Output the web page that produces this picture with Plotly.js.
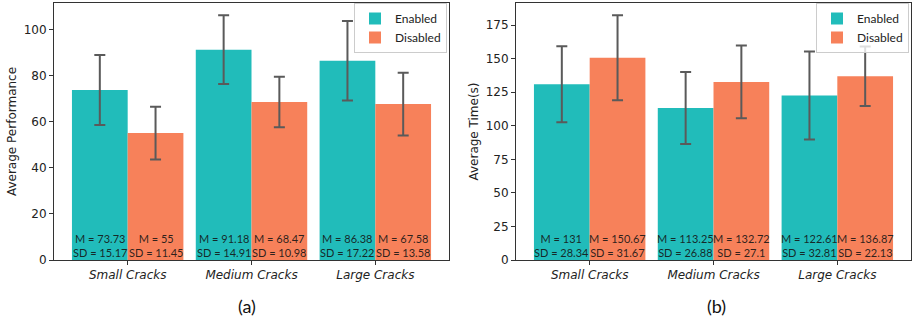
<!DOCTYPE html>
<html>
<head>
<meta charset="utf-8">
<script src="https://cdn.plot.ly/plotly-3.0.1.min.js"></script>
<style>html,body{margin:0;padding:0;background:#fff;}#chart{width:913px;height:324px;}</style>
</head>
<body>
<div id="chart"></div>
<script>
const categories = ["Small Cracks", "Medium Cracks", "Large Cracks"];
const seriesNames = ["Enabled", "Disabled"];

const perfEnabledMean = [73.73, 91.18, 86.38];
const perfEnabledSD = [15.17, 14.91, 17.22];
const perfDisabledMean = [55, 68.47, 67.58];
const perfDisabledSD = [11.45, 10.98, 13.58];

const timeEnabledMean = [131, 113.25, 122.61];
const timeEnabledSD = [28.34, 26.88, 32.81];
const timeDisabledMean = [150.67, 132.72, 136.87];
const timeDisabledSD = [31.67, 27.1, 22.13];

const panelLabels = ["(a)", "(b)"];
const yTitles = ["Average Performance", "Average Time(s)"];

const TEAL = "#21BCBA";
const ORANGE = "#F7815A";
const idx = categories.map((_, i) => i);

function barTrace(name, mean, sd, color, xa, ya, legend) {
  return {
    type: "bar", name: name, x: idx, y: mean,
    marker: {color: color, line: {width: 0}},
    error_y: {type: "data", array: sd, visible: true, color: "#5a5a5a", thickness: 2, width: 5.5},
    xaxis: xa, yaxis: ya, legend: legend, hoverinfo: "skip"
  };
}

const data = [
  barTrace(seriesNames[0], perfEnabledMean, perfEnabledSD, TEAL, "x", "y", "legend"),
  barTrace(seriesNames[1], perfDisabledMean, perfDisabledSD, ORANGE, "x", "y", "legend"),
  barTrace(seriesNames[0], timeEnabledMean, timeEnabledSD, TEAL, "x2", "y2", "legend2"),
  barTrace(seriesNames[1], timeDisabledMean, timeDisabledSD, ORANGE, "x2", "y2", "legend2")
];

const annFont = {family: "Lato, 'Open Sans', sans-serif", size: 11, color: "rgba(20,20,20,0.9)"};
const annotations = [];
function addBarLabels(means, sds, offset, xref, yref) {
  means.forEach((m, i) => {
    annotations.push({
      xref: xref, yref: yref, x: i + offset, y: 0,
      xanchor: "center", yanchor: "bottom", yshift: -1,
      text: "M = " + m + "<br>SD = " + sds[i],
      showarrow: false, font: annFont, align: "center"
    });
  });
}
addBarLabels(perfEnabledMean, perfEnabledSD, -0.225, "x", "y");
addBarLabels(perfDisabledMean, perfDisabledSD, 0.225, "x", "y");
addBarLabels(timeEnabledMean, timeEnabledSD, -0.225, "x2", "y2");
addBarLabels(timeDisabledMean, timeDisabledSD, 0.225, "x2", "y2");

annotations.push({xref: "paper", yref: "paper", x: 247/913, y: 1 - 306/324, xanchor: "center", yanchor: "middle",
  text: panelLabels[0], showarrow: false, font: {family: "Lato, sans-serif", size: 18, color: "#111"}});
annotations.push({xref: "paper", yref: "paper", x: 716/913, y: 1 - 306/324, xanchor: "center", yanchor: "middle",
  text: panelLabels[1], showarrow: false, font: {family: "Lato, sans-serif", size: 18, color: "#111"}});

const tickFont = {family: "DejaVu Sans, sans-serif", size: 12, color: "#222"};
function xAxis(domain, anchor) {
  return {
    domain: domain, anchor: anchor, range: [-0.595, 2.595],
    tickmode: "array", tickvals: idx, ticktext: categories.map(c => "<i>" + c + "</i>"),
    ticks: "outside", ticklen: 4, tickcolor: "#333", tickwidth: 1,
    showline: true, linecolor: "#333", linewidth: 1, mirror: true,
    showgrid: false, zeroline: false, tickfont: tickFont, fixedrange: true
  };
}
function yAxis(domain, anchor, range, dtick, title) {
  return {
    domain: domain, anchor: anchor, range: range, dtick: dtick, tick0: 0,
    ticks: "outside", ticklen: 4, tickcolor: "#333", tickwidth: 1,
    showline: true, linecolor: "#333", linewidth: 1, mirror: true,
    showgrid: false, zeroline: false, tickfont: tickFont,
    title: {text: title, font: {family: "DejaVu Sans, sans-serif", size: 12, color: "#222"}, standoff: 4},
    fixedrange: true
  };
}
const yDom = [1 - 260/324, 1 - 3/324];

const legendBase = {
  bgcolor: "rgba(255,255,255,0.8)", bordercolor: "#cccccc", borderwidth: 1,
  font: {family: "Lato, 'Open Sans', sans-serif", size: 12, color: "#222"},
  xanchor: "right", yanchor: "top", tracegroupgap: 0, itemwidth: 30
};

const layout = {
  width: 913, height: 324,
  margin: {l: 0, r: 0, t: 0, b: 0},
  paper_bgcolor: "#fff", plot_bgcolor: "#fff",
  barmode: "group", bargap: 0.1, bargroupgap: 0,
  showlegend: true,
  xaxis: xAxis([54/913, 449/913], "y"),
  yaxis: yAxis(yDom, "x", [0, 111.4], 20, yTitles[0]),
  xaxis2: xAxis([516/913, 911/913], "y2"),
  yaxis2: yAxis(yDom, "x2", [0, 191.5], 25, yTitles[1]),
  legend: Object.assign({}, legendBase, {x: 447/913, y: 1 - 3/324}),
  legend2: Object.assign({}, legendBase, {x: 909/913, y: 1 - 3/324}),
  annotations: annotations
};

Plotly.newPlot("chart", data, layout, {displayModeBar: false, staticPlot: true});
</script>
</body>
</html>
